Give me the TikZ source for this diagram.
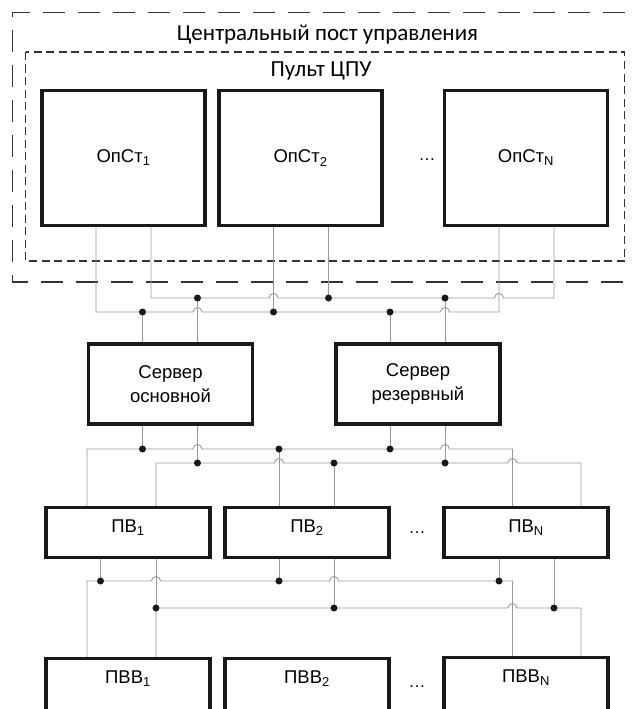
\documentclass[tikz,border=0pt]{standalone}
\usepackage{fontspec}
\setmainfont{Liberation Sans}
\newfontfamily\titlefont{Carlito}
\usetikzlibrary{calc}

% wire jumping over a crossing wire
\newcommand\hop[2]{-- ($(#1 |- #2)+(-4.5pt,0)$) arc[start angle=180,end angle=0,radius=4.5pt]}

\begin{document}
\begin{tikzpicture}[x=1pt,y=-1pt,
blk/.style={%
draw=black!90,
line width=3.2pt,
minimum width=164pt,
inner sep=0pt,
align=center,
font=\fontsize{18.5}{23.3}\selectfont,
},
pvbox/.style={%
blk,
minimum height=50pt,
text depth=12pt,
},
pvvbox/.style={%
blk,
minimum height=70pt,
text depth=32pt,
},
ell/.style={%
font=\fontsize{17}{20}\selectfont,
},
wire/.style={%
draw=black!40,
line width=0.9pt,
},
jdot/.style={%
fill=black!90,
},
frm/.style={%
draw=black!80,
line width=1.3pt,
},
frametitle/.style={%
font=\titlefont\fontsize{23}{26}\selectfont,
},
]
\useasboundingbox (0,0) rectangle (632,709);
%% Frames
\draw[frm,dash pattern=on 22pt off 13pt] (660,12.7) -- (12.7,12.7) -- (12.7,282) -- (660,282);
\draw[frm,dash pattern=on 8pt off 4.5pt] (25.5,52) rectangle (624.5,261);
\node[frametitle]at(327.5,35)(cpu){Центральный пост управления};
\node[frametitle]at(321,71)(pult){Пульт ЦПУ};
%% Operator stations
\node[blk,minimum width=163pt,minimum height=135pt]at(123.5,158)(op1){ОпСт\textsubscript{1}};
\node[blk,minimum width=163pt,minimum height=135pt]at(300.5,158)(op2){ОпСт\textsubscript{2}};
\node[blk,minimum width=163pt,minimum height=135pt]at(526,158)(opn){ОпСт\textsubscript{N}};
\node[ell]at(427,160)(opdots){…};
%% Servers
\node[blk,minimum height=80pt]at(170.5,384)(sv1){Сервер\\основной};
\node[blk,minimum height=80pt]at(418,384)(sv2){Сервер\\резервный};
%% PV row
\node[pvbox]at(128,532.5)(pv1){ПВ\textsubscript{1}};
\node[pvbox]at(307,532.5)(pv2){ПВ\textsubscript{2}};
\node[pvbox]at(526,532.5)(pvn){ПВ\textsubscript{N}};
\node[ell]at(417,533)(pvdots){…};
%% PVV row
\node[pvvbox]at(128,693.5)(pvv1){ПВВ\textsubscript{1}};
\node[pvvbox]at(307,693.5)(pvv2){ПВВ\textsubscript{2}};
\node[pvvbox]at(526,692.5)(pvvn){ПВВ\textsubscript{N}};
\node[ell]at(417,687)(pvvdots){…};
%% Ports
\coordinate (op1-l) at ([xshift=-27.5pt]op1.south);
\coordinate (op1-r) at ([xshift=27.5pt]op1.south);
\coordinate (op2-l) at ([xshift=-27pt]op2.south);
\coordinate (op2-r) at ([xshift=28pt]op2.south);
\coordinate (opn-l) at ([xshift=-27pt]opn.south);
\coordinate (opn-r) at ([xshift=28pt]opn.south);
\foreach \s in {sv1,sv2}{%
\coordinate (\s-nl) at ([xshift=-28pt]\s.north);
\coordinate (\s-nr) at ([xshift=27pt]\s.north);
\coordinate (\s-sl) at ([xshift=-28pt]\s.south);
\coordinate (\s-sr) at ([xshift=27pt]\s.south);
}
\coordinate (pv1-nl) at ([xshift=-41pt]pv1.north);
\coordinate (pv1-nr) at ([xshift=28pt]pv1.north);
\coordinate (pv2-nl) at ([xshift=-28pt]pv2.north);
\coordinate (pv2-nr) at ([xshift=27pt]pv2.north);
\coordinate (pvn-nl) at ([xshift=-13.5pt]pvn.north);
\coordinate (pvn-nr) at ([xshift=55pt]pvn.north);
\coordinate (pv1-sl) at ([xshift=-27.5pt]pv1.south);
\coordinate (pv1-sr) at ([xshift=28pt]pv1.south);
\coordinate (pv2-sl) at ([xshift=-28pt]pv2.south);
\coordinate (pv2-sr) at ([xshift=27pt]pv2.south);
\coordinate (pvn-sl) at ([xshift=-27pt]pvn.south);
\coordinate (pvn-sr) at ([xshift=28pt]pvn.south);
\coordinate (pvv1-nl) at ([xshift=-41pt]pvv1.north);
\coordinate (pvv1-nr) at ([xshift=28pt]pvv1.north);
\coordinate (pvvn-nl) at ([xshift=-13.5pt]pvvn.north);
\coordinate (pvvn-nr) at ([xshift=55pt]pvvn.north);
%% Bus levels
\coordinate (busU) at (0,298);
\coordinate (busL) at (0,312);
\coordinate (busA) at (0,449);
\coordinate (busB) at (0,463);
\coordinate (busC) at (0,581);
\coordinate (busD) at (0,608);
%% Stations - servers
\draw[wire] (op1-r) -- (op1-r |- busU) \hop{op2-l}{busU} \hop{opn-l}{busU} -- (opn-r |- busU) -- (opn-r);
\draw[wire] (op1-l) -- (op1-l |- busL) \hop{sv1-nr}{busL} \hop{sv2-nr}{busL} -- (opn-l |- busL) -- (opn-l);
\foreach \p/\b in {op2-l/busL,op2-r/busU,sv1-nl/busL,sv1-nr/busU,sv2-nl/busL,sv2-nr/busU}{%
\draw[wire] (\p) -- (\p |- \b);
\fill[jdot] (\p |- \b) circle[radius=3.5pt];
}
%% Servers - PV
\draw[wire] (pv1-nl) -- (pv1-nl |- busA) \hop{sv1-sr}{busA} \hop{sv2-sr}{busA} -- (pvn-nl |- busA) -- (pvn-nl);
\draw[wire] (pv1-nr) -- (pv1-nr |- busB) \hop{pv2-nl}{busB} \hop{pvn-nl}{busB} -- (pvn-nr |- busB) -- (pvn-nr);
\foreach \p/\b in {sv1-sl/busA,sv1-sr/busB,sv2-sl/busA,sv2-sr/busB,pv2-nl/busA,pv2-nr/busB}{%
\draw[wire] (\p) -- (\p |- \b);
\fill[jdot] (\p |- \b) circle[radius=3.5pt];
}
%% PV - PVV
\draw[wire] (pvv1-nl) -- (pvv1-nl |- busC) \hop{pv1-sr}{busC} \hop{pv2-sr}{busC} -- (pvvn-nl |- busC) -- (pvvn-nl);
\draw[wire] (pvv1-nr) -- (pvv1-nr |- busD) \hop{pvvn-nl}{busD} -- (pvvn-nr |- busD) -- (pvvn-nr);
\foreach \p/\b in {pv1-sl/busC,pv1-sr/busD,pv2-sl/busC,pv2-sr/busD,pvn-sl/busC,pvn-sr/busD}{%
\draw[wire] (\p) -- (\p |- \b);
\fill[jdot] (\p |- \b) circle[radius=3.5pt];
}
\end{tikzpicture}
\end{document}
